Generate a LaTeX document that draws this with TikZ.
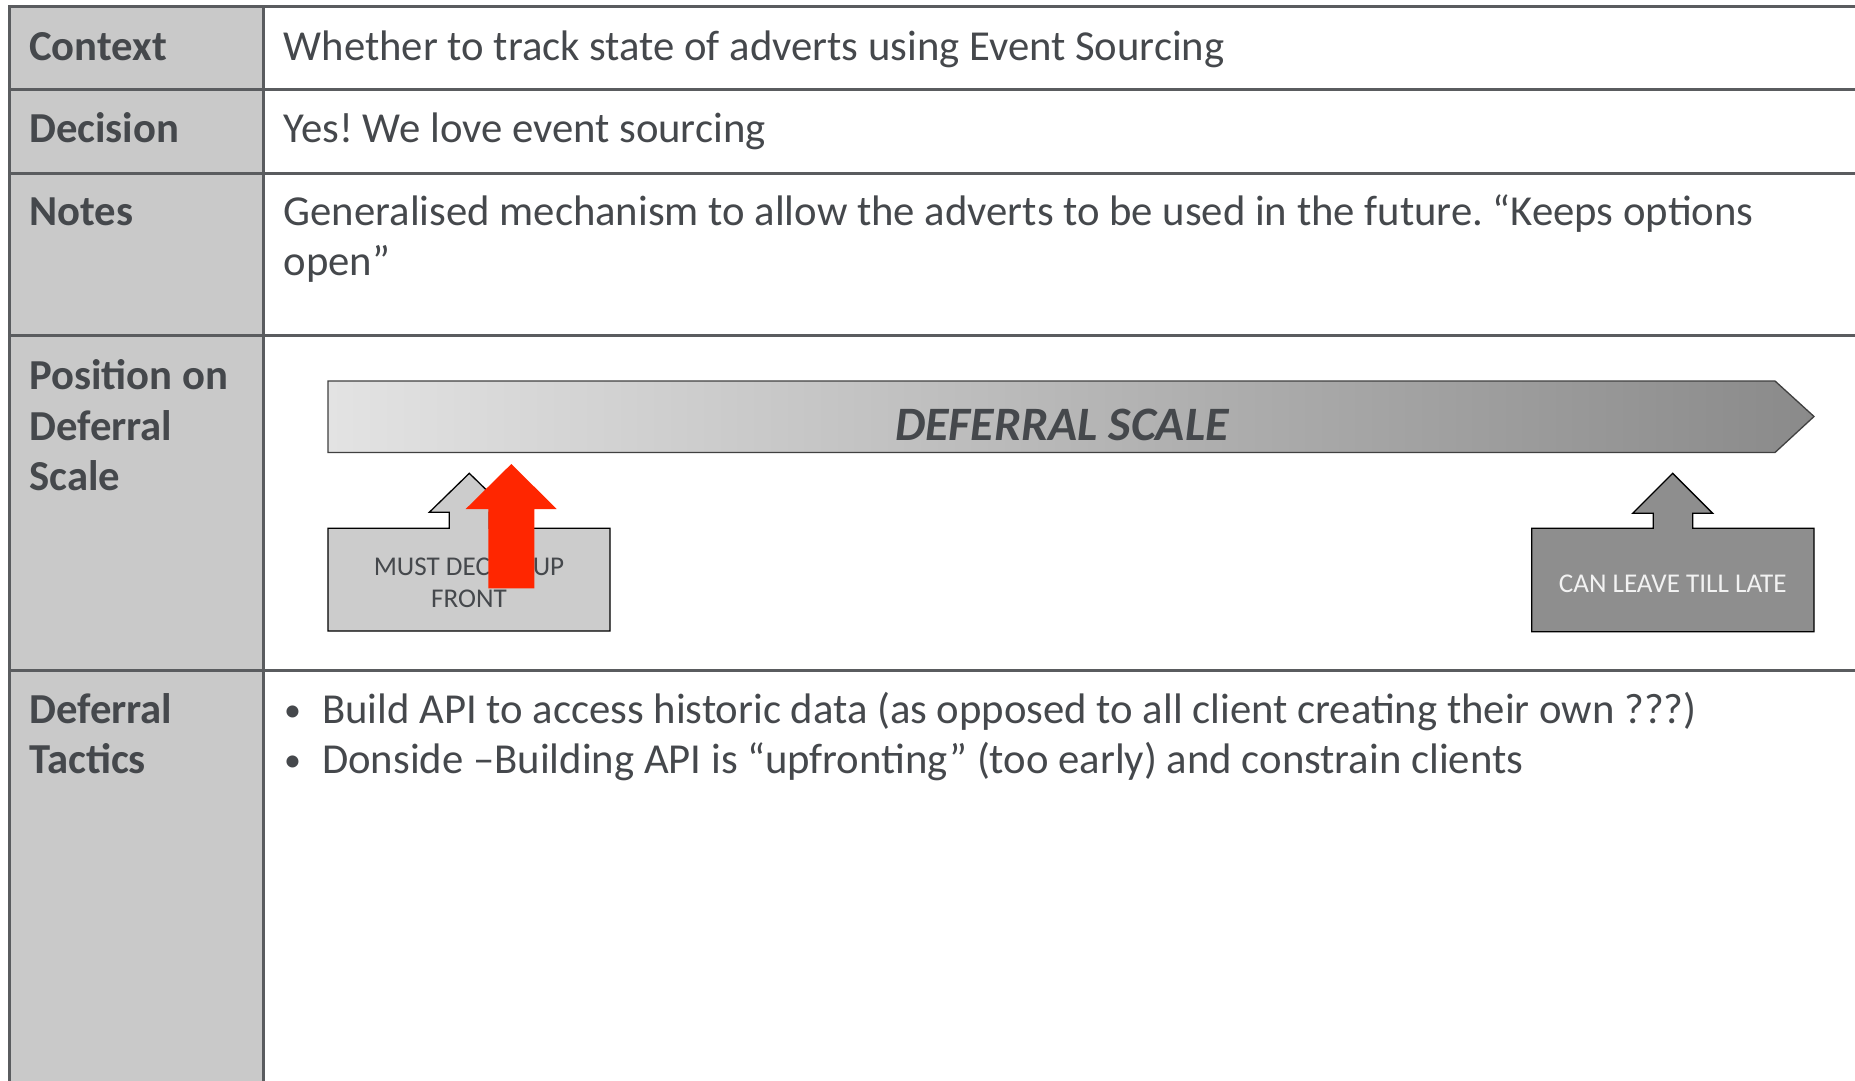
\documentclass[tikz,border=0pt]{standalone}
\usepackage{fontspec}
\setmainfont{Carlito}
\frenchspacing
\definecolor{linec}{HTML}{5A5C5F}
\definecolor{labfill}{HTML}{C9C9C9}
\definecolor{txt}{HTML}{45484C}
\definecolor{gradL}{HTML}{E3E3E3}
\definecolor{gradR}{HTML}{8A8A8A}
\definecolor{boxL}{HTML}{CCCCCC}
\definecolor{boxR}{HTML}{8E8E8E}
\definecolor{redarrow}{HTML}{FF2600}
\begin{document}
\begin{tikzpicture}[x=1pt,y=-1pt,
  tline/.style={draw=linec, line width=3pt},
  lab/.style={anchor=base west, inner sep=0pt, text=txt, font=\fontsize{42.7}{50}\selectfont\bfseries},
  body/.style={anchor=base west, inner sep=0pt, text=txt, font=\fontsize{42.7}{50}\selectfont\frenchspacing},
  bul/.style={anchor=base west, inner sep=0pt, text=txt, font=\fontsize{34}{40}\selectfont},
  boxtext/.style={align=center, inner sep=0pt, font=\fontsize{27.1}{31.6}\selectfont},
  shapebox/.style={draw=black, line width=1.3pt}
]
\useasboundingbox (0,0) rectangle (1855,1081);
\clip (0,0) rectangle (1855,1081);
\fill[white] (0,0) rectangle (1855,1081);
% label column
\fill[labfill] (9.5,7) rectangle (263,1095);
% table lines
\draw[tline] (9.5,1095) -- (9.5,7) -- (1870,7);
\draw[tline] (263,7) -- (263,1095);
\draw[tline] (9.5,89) -- (1870,89);
\draw[tline] (9.5,173) -- (1870,173);
\draw[tline] (9.5,335) -- (1870,335);
\draw[tline] (9.5,670) -- (1870,670);

% labels
\node[lab] (lctx) at (29,60) {Context};
\node[lab] (ldec) at (29,142) {Decision};
\node[lab] (lnot) at (29,225) {Notes};
\node[lab] (lpos1) at (29,389.5) {Position on};
\node[lab] (lpos2) at (29,440) {Deferral};
\node[lab] (lpos3) at (29,490.5) {Scale};
\node[lab] (ltac1) at (29,723) {Deferral};
\node[lab] (ltac2) at (29,773) {Tactics};

% content
\node[body] (cctx) at (283.5,60) {Whether to track state of adverts using Event Sourcing};
\node[body] (cdec) at (283.5,142) {Yes! We love event sourcing};
\node[body] (cnot1) at (283.5,225) {Generalised mechanism to allow the adverts to be used in the future. “Keeps options};
\node[body] (cnot2) at (283.5,275.5) {open”};
\node[bul] (b1) at (284,721.5) {•};
\node[body] (t1) at (322,723) {Build API to access historic data (as opposed to all client creating their own ???)};
\node[bul] (b2) at (284,771.5) {•};
\node[body] (t2) at (322,773) {Donside –Building API is “upfronting” (too early) and constrain clients};

% deferral scale arrow
\shadedraw[left color=gradL, right color=gradR, draw=black!75, line width=1.3pt]
  (328,381) -- (1775,381) -- (1814,416.5) -- (1775,452.5) -- (328,452.5) -- cycle;
\node[inner sep=0pt, text=txt, font=\fontsize{48}{52}\selectfont\bfseries\itshape] (dscale) at (1062,424.5) {DEFERRAL SCALE};

% must decide box with arrow
\filldraw[shapebox, fill=boxL]
  (328,631) -- (328,528.3) -- (449.3,528.3) -- (449.3,512.3) -- (429.3,512.3) -- (469.3,473.3)
  -- (509.3,512.3) -- (489.3,512.3) -- (489.3,528.3) -- (610,528.3) -- (610,631) -- cycle;
\node[boxtext, text=txt] (must) at (469,583) {MUST DECIDE UP\\FRONT};

% can leave box with arrow
\filldraw[shapebox, fill=boxR]
  (1531.7,631.7) -- (1531.7,528.3) -- (1653.3,528.3) -- (1653.3,513.3) -- (1632.7,513.3) -- (1672.7,473.3)
  -- (1712.7,513.3) -- (1692.7,513.3) -- (1692.7,528.3) -- (1814,528.3) -- (1814,631.7) -- cycle;
\node[boxtext, text=white!95!black] (late) at (1672.7,583.3) {CAN LEAVE TILL LATE};

% red arrow
\fill[redarrow] (488.3,588.3) -- (488.3,509) -- (465.7,509) -- (511.3,464) -- (556.7,509)
  -- (534.3,509) -- (534.3,588.3) -- cycle;
\end{tikzpicture}
\end{document}
